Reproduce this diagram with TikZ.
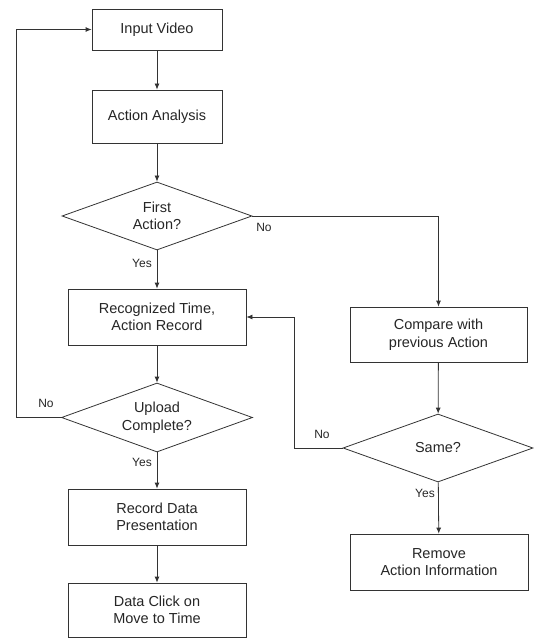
\documentclass[tikz,border=0pt]{standalone}
\usepackage{fontspec}
\setmainfont{Liberation Sans}
\usetikzlibrary{shapes.geometric,arrows.meta}
\begin{document}
\begin{tikzpicture}[x=1pt,y=-1pt,
  font=\fontsize{14.5}{17.5}\selectfont,
  every node/.style={text=black!85},
  box/.style={draw=black!80, line width=0.8pt, fill=white, align=center, inner sep=0pt},
  dec/.style={draw=black!80, line width=0.8pt, diamond, shape aspect=2.8, align=center, inner sep=0pt},
  arr/.style={draw=black!80, line width=0.8pt, -{Latex[length=6pt,width=5pt]}},
  lbl/.style={font=\fontsize{12}{14}\selectfont}]
\useasboundingbox (0,0) rectangle (534,639);
\node[box, minimum width=130pt, minimum height=41pt] (in) at (157,29.5) {Input Video};
\node[box, minimum width=130pt, minimum height=53pt] (aa) at (157,116.5) {Action Analysis};
\node[dec, minimum width=190pt, minimum height=68pt] (d1) at (157,216) {First\\Action?};
\node[box, minimum width=178pt, minimum height=56pt] (rec) at (157,317) {Recognized Time,\\Action Record};
\node[dec, minimum width=191pt, minimum height=69pt] (d2) at (157,417.5) {Upload\\Complete?};
\node[box, minimum width=178pt, minimum height=56pt] (rdp) at (157,517) {Record Data\\Presentation};
\node[box, minimum width=178pt, minimum height=54pt] (dc) at (157,610) {Data Click on\\Move to Time};
\node[box, minimum width=177pt, minimum height=55pt] (cmp) at (438.5,334.5) {Compare with\\previous Action};
\node[dec, minimum width=190pt, minimum height=68pt] (same) at (438,448) {Same?};
\node[box, minimum width=178pt, minimum height=56pt] (rm) at (439,562) {Remove\\Action Information};
\coordinate (l2) at (16,417.5);
\coordinate (r2) at (294,448);
\draw[arr] (in) -- (aa);
\draw[arr] (aa) -- (d1);
\draw[arr] (d1) -- (rec);
\draw[arr] (d1.east) -| (cmp.north);
\draw[arr] (cmp) -- (same);
\draw[arr] (same) -- (rm);
\draw[arr] (same.west) -- (r2) |- (rec.east);
\draw[arr] (rec) -- (d2);
\draw[arr] (d2.west) -- (l2) |- (in.west);
\draw[arr] (d2) -- (rdp);
\draw[arr] (rdp) -- (dc);
\node[lbl] (y1) at (142,263) {Yes};
\node[lbl] (n1) at (264,227) {No};
\node[lbl] (n2) at (46,403) {No};
\node[lbl] (y2) at (142,462) {Yes};
\node[lbl] (n3) at (322,434) {No};
\node[lbl] (y3) at (425,493) {Yes};
\end{tikzpicture}
\end{document}
